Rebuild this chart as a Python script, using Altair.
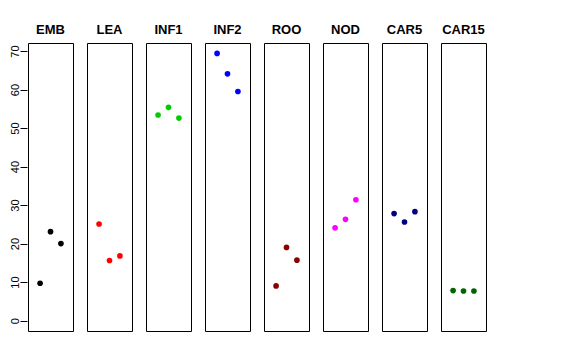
import altair as alt
import pandas as pd

panels = ["EMB", "LEA", "INF1", "INF2", "ROO", "NOD", "CAR5", "CAR15"]
colors = ["#000000", "#FF0000", "#00CD00", "#0000FF", "#8B0000", "#FF00FF", "#000080", "#006400"]
positions = [1, 2, 3]

emb = [9.7, 23.1, 20.0]
lea = [25.1, 15.6, 16.8]
inf1 = [53.4, 55.4, 52.6]
inf2 = [69.4, 64.1, 59.5]
roo = [9.0, 19.0, 15.7]
nod = [24.1, 26.3, 31.4]
car5 = [27.8, 25.6, 28.3]
car15 = [7.8, 7.7, 7.7]

series = [emb, lea, inf1, inf2, roo, nod, car5, car15]
y_ticks = [0, 10, 20, 30, 40, 50, 60, 70]

rows = []
for name, vals in zip(panels, series):
    for p, v in zip(positions, vals):
        rows.append({"panel": name, "pos": p, "value": v})
df = pd.DataFrame(rows)

base = alt.Chart(df).mark_circle(size=32, opacity=1).encode(
    x=alt.X("pos:Q", scale=alt.Scale(domain=[-0.16, 4.16], nice=False, zero=False), axis=None),
    y=alt.Y(
        "value:Q",
        scale=alt.Scale(domain=[-2.7, 72.1], nice=False, zero=False),
        axis=alt.Axis(
            values=y_ticks,
            title=None,
            grid=False,
            domain=False,
            tickSize=7,
            tickColor="black",
            labelColor="black",
            labelFont="Liberation Sans",
            labelFontSize=11,
            labelAngle=270,
            labelAlign="center",
            labelBaseline="bottom",
            labelPadding=0,
        ),
    ),
    color=alt.Color("panel:N", scale=alt.Scale(domain=panels, range=colors), legend=None),
).properties(width=45, height=288)

chart = base.facet(
    column=alt.Column(
        "panel:N",
        sort=panels,
        title=None,
        header=alt.Header(
            labelFont="Liberation Sans",
            labelFontWeight="bold",
            labelFontSize=13,
            labelColor="black",
            labelPadding=5,
        ),
    ),
    spacing=12,
).configure_view(stroke="black", strokeWidth=1).properties(
    padding={"left": 0, "top": 16, "right": 5, "bottom": 5},
    background="white",
)

chart.save("out.html", embed_options={"renderer": "svg", "actions": False})
